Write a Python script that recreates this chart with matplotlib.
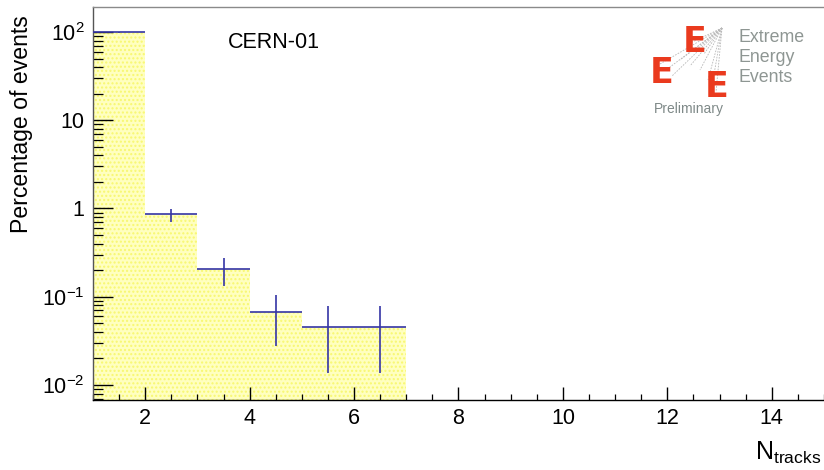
import numpy as np
import matplotlib
matplotlib.use("Agg")
import matplotlib.pyplot as plt
from matplotlib.ticker import FixedLocator, FixedFormatter, LogLocator, NullFormatter, MultipleLocator

# --- data ---
bin_edges = [1, 2, 3, 4, 5, 6, 7]
percent = [98.8, 0.855, 0.204, 0.067, 0.0457, 0.0457]
percent_err = [1.5, 0.144, 0.07, 0.039, 0.032, 0.032]

y_ticks = [1e-2, 1e-1, 1, 10, 100]
y_tick_labels = [r"$10^{-2}$", r"$10^{-1}$", "1", "10", r"$10^{2}$"]
x_ticks = [2, 4, 6, 8, 10, 12, 14]

plt.rcParams["font.family"] = ["Liberation Sans", "DejaVu Sans"]
plt.rcParams["mathtext.fontset"] = "custom"
plt.rcParams["mathtext.rm"] = "Liberation Sans"
plt.rcParams["mathtext.it"] = "Liberation Sans:italic"
plt.rcParams["hatch.linewidth"] = 1.0

fig = plt.figure(figsize=(8.24, 4.70), dpi=100)
ax = fig.add_axes([93 / 824, 1 - 400 / 470, 1 - 93 / 824, 393 / 470])

edges = np.array(bin_edges, dtype=float)
widths = np.diff(edges)
centers = edges[:-1] + widths / 2

# yellow dotted fill (ROOT style 3001-ish)
ax.bar(edges[:-1], percent, width=widths, align="edge", bottom=1e-4,
       color="#ffffc0", edgecolor="#f8f870", hatch="....", linewidth=0, zorder=1)
ax.errorbar(centers, percent, xerr=widths / 2, yerr=percent_err, fmt="none",
            ecolor="#3535a5", elinewidth=1.2, capsize=0, zorder=3)

ax.set_yscale("log")
ax.set_xlim(1, 15)
ax.set_ylim(10 ** -2.17, 10 ** 2.283)

ax.yaxis.set_major_locator(FixedLocator(y_ticks))
ax.yaxis.set_major_formatter(FixedFormatter(y_tick_labels))
ax.yaxis.set_minor_locator(LogLocator(base=10, subs=np.arange(2, 10)))
ax.yaxis.set_minor_formatter(NullFormatter())
ax.xaxis.set_major_locator(FixedLocator(x_ticks))
ax.xaxis.set_minor_locator(MultipleLocator(0.5))

ax.tick_params(axis="both", which="both", direction="in", top=False, right=False,
               labelsize=15.5, colors="black")
ax.tick_params(axis="y", which="major", length=14.4, width=1.0, pad=6)
ax.tick_params(axis="y", which="minor", length=7, width=0.9)
ax.tick_params(axis="x", which="major", length=9.4, width=1.0, pad=6)
ax.tick_params(axis="x", which="minor", length=4.3, width=0.9)

ax.spines["right"].set_visible(False)
ax.spines["top"].set_color("#8a8a8a")
ax.spines["left"].set_color("#555555")
ax.spines["bottom"].set_color("black")
for s in ax.spines.values():
    s.set_linewidth(1.0)

ax.set_ylabel("Percentage of events", fontsize=16.6, loc="top")
ax.yaxis.set_label_coords(-0.082, 0.98)
ax.text(0.997, -0.153, r"$\mathregular{N_{tracks}}$", transform=ax.transAxes,
        ha="right", va="baseline", fontsize=18)

fig.text(228 / 824, 1 - 42 / 470, "CERN-01", fontsize=15.5, ha="left", va="center")


# --- EEE logo (decoration) ---
def px(x, y):
    return x / 824, 1 - y / 470


apex = (722, 28)
targets = [(688, 44), (696, 50), (704, 54), (660, 64), (666, 70), (672, 76),
           (708, 80), (712, 86), (716, 92), (680, 60), (700, 70), (690, 66)]
for tx, ty in targets:
    x0, y0 = px(*apex)
    x1, y1 = px(tx, ty)
    fig.add_artist(plt.Line2D([x0, x1], [y0, y1], transform=fig.transFigure,
                              color="#b8b8b8", lw=0.6, ls=(0, (2, 1.5))))

red = "#ea3a1e"
for (ex, ey) in [(683, 42), (650, 73), (705, 87)]:
    fig.text(*px(ex, ey), "E", color=red, fontsize=25, fontweight="bold",
             ha="left", va="center", family="DejaVu Sans")

logo_grey = "#8e9693"
fig.text(*px(739, 38), "Extreme", color=logo_grey, fontsize=12.8, ha="left", va="center")
fig.text(*px(739, 58), "Energy", color=logo_grey, fontsize=12.8, ha="left", va="center")
fig.text(*px(739, 77), "Events", color=logo_grey, fontsize=12.8, ha="left", va="center")
fig.text(*px(654, 109), "Preliminary", color="#7f8988", fontsize=10, ha="left", va="center")

fig.savefig("out.png", dpi=100)
